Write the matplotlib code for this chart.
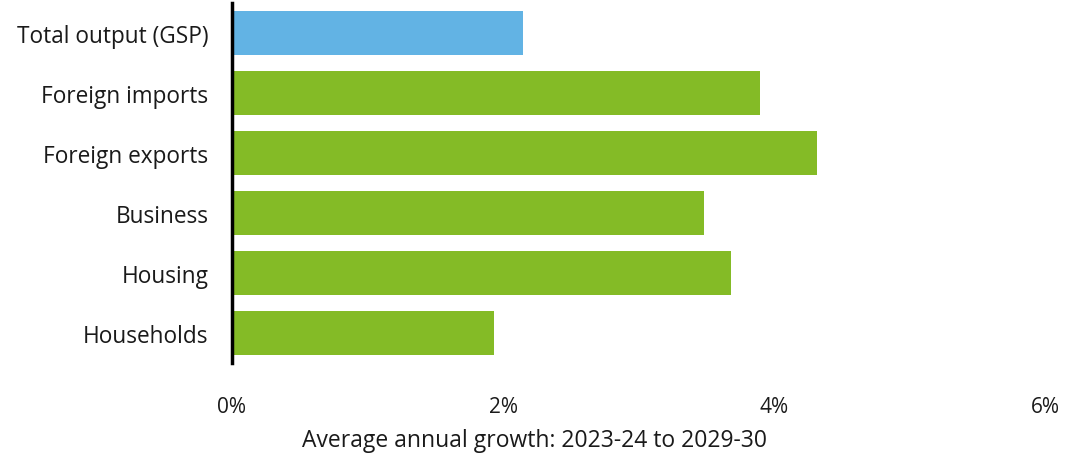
import matplotlib
matplotlib.use("Agg")
import matplotlib.pyplot as plt

# data (top to bottom as in the chart)
categories = ["Total output (GSP)", "Foreign imports", "Foreign exports",
              "Business", "Housing", "Households"]
growth = [2.15, 3.9, 4.32, 3.48, 3.68, 1.93]
bar_colors = ["#62b3e4", "#84bb26", "#84bb26", "#84bb26", "#84bb26", "#84bb26"]
xticks = [0, 2, 4, 6]
xtick_labels = ["0%", "2%", "4%", "6%"]

plt.rcParams["font.family"] = ["Open Sans", "DejaVu Sans"]

fig = plt.figure(figsize=(10.66, 4.56), dpi=100)
ax = fig.add_axes([232 / 1066, 1 - 364 / 456, (1045 - 232) / 1066, 360 / 456])

y = list(range(len(categories)))
ax.barh(y, growth, color=bar_colors, height=0.72, zorder=2)

ax.set_ylim(len(categories) - 0.5, -0.5)
ax.set_xlim(0, 6)
ax.set_yticks(y)
ax.set_yticklabels(categories, fontsize=16.3, color="#1a1a1a")
ax.set_xticks(xticks)
ax.set_xticklabels(xtick_labels, fontsize=15, color="#1a1a1a")
ax.tick_params(axis="y", length=0, pad=17)
ax.tick_params(axis="x", length=0, pad=24)

for s in ["top", "right", "bottom"]:
    ax.spines[s].set_visible(False)
ax.spines["left"].set_linewidth(2.5)
ax.spines["left"].set_color("black")
ax.spines["left"].set_zorder(3)

# label sits left of the axes centre in the original
ax.set_xlabel("Average annual growth: 2023-24 to 2029-30", fontsize=16.5,
              color="#1a1a1a")
ax.xaxis.set_label_coords((535 - 232) / 813, -0.18)

fig.savefig("out.png", dpi=100, facecolor="white")
